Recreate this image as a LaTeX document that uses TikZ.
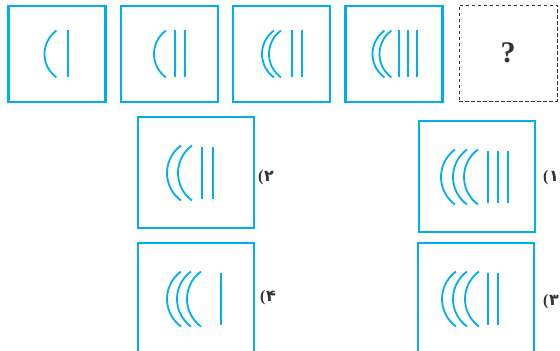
\documentclass[tikz,border=0pt]{standalone}
\usepackage{fontspec}
\newfontfamily\arabicfont[Script=Arabic]{DejaVu Sans}
\newfontfamily\markfont{Liberation Serif}
\TeXXeTstate=1
\definecolor{quizblue}{RGB}{0,174,239}
\definecolor{quizgray}{RGB}{50,50,50}
\tikzset{
  qbox/.style={draw=quizblue,line width=2.2pt,minimum width=97pt,minimum height=96pt,inner sep=0pt},
  obox/.style={qbox,line width=2pt,minimum width=116pt,minimum height=111pt},
  wave/.style={quizblue,line width=1.8pt},
  optlabel/.style={anchor=west,inner sep=0pt,text=quizgray,font=\markfont\bfseries\fontsize{16}{16}\selectfont}
}
%% #1 box, #2 half length of the bars, #3 arc radius, #4 left ends of the arcs, #5 bars
\newcommand{\wavefig}[5]{%
  \begin{scope}[shift={(#1.center)}]
    \foreach \ax in {#4}
      \draw[wave] (\ax+0.412*#3,0.809*#3) arc (126:234:#3pt);
    \foreach \lx in {#5}
      \draw[wave] (\lx,#2) -- (\lx,-#2);
  \end{scope}}
\begin{document}
\begin{tikzpicture}[x=1pt,y=1pt]
    \useasboundingbox (0,0) rectangle (560,351);
    \clip (0,0) rectangle (560,351);
    %% question row
    \node[qbox] (q1) at (57,297) {};
    \node[qbox] (q2) at (169.5,297) {};
    \node[qbox] (q3) at (281.5,297) {};
    \node[qbox] (q4) at (394,297) {};
    \node[draw=quizgray,line width=0.9pt,dash pattern=on 3.5pt off 2.5pt,
          minimum width=98pt,minimum height=96pt] (q5) at (508,298) {};
    \node[text=quizgray,font=\markfont\bfseries\fontsize{30}{30}\selectfont] (qmark) at (q5) {?};
    \wavefig{q1}{23.5}{29}{-12.5}{11}
    \wavefig{q2}{23.5}{29}{-15.5}{5.5,15.5}
    \wavefig{q3}{23.5}{29}{-19.5,-12.5}{10.5,20.5}
    \wavefig{q4}{23.5}{29}{-21.5,-14.5}{5,14,23}
    %% options
    \node[obox] (o2) at (195.5,178) {};
    \node[obox] (o1) at (476.5,174) {};
    \node[obox] (o4) at (196,52) {};
    \node[obox] (o3) at (476,52) {};
    \wavefig{o2}{26}{34}{-28.5,-17.5}{6.5,17.5}
    \wavefig{o1}{26}{34}{-35.5,-23.5,-12.5}{11.5,21.5,31.5}
    \wavefig{o4}{26}{34}{-29,-19,-9}{25}
    \wavefig{o3}{26}{34}{-34,-23,-11}{12,22}
    %% labels
    \node[optlabel] (l2) at (258,173) {(\kern0.5pt{\arabicfont ۲}};
    \node[optlabel] (l1) at (543,173) {(\kern0.5pt{\arabicfont ۱}};
    \node[optlabel] (l4) at (260,53) {(\kern0.5pt{\arabicfont ۴}};
    \node[optlabel] (l3) at (543,49) {(\kern0.5pt{\arabicfont ۳}};
\end{tikzpicture}
\end{document}
